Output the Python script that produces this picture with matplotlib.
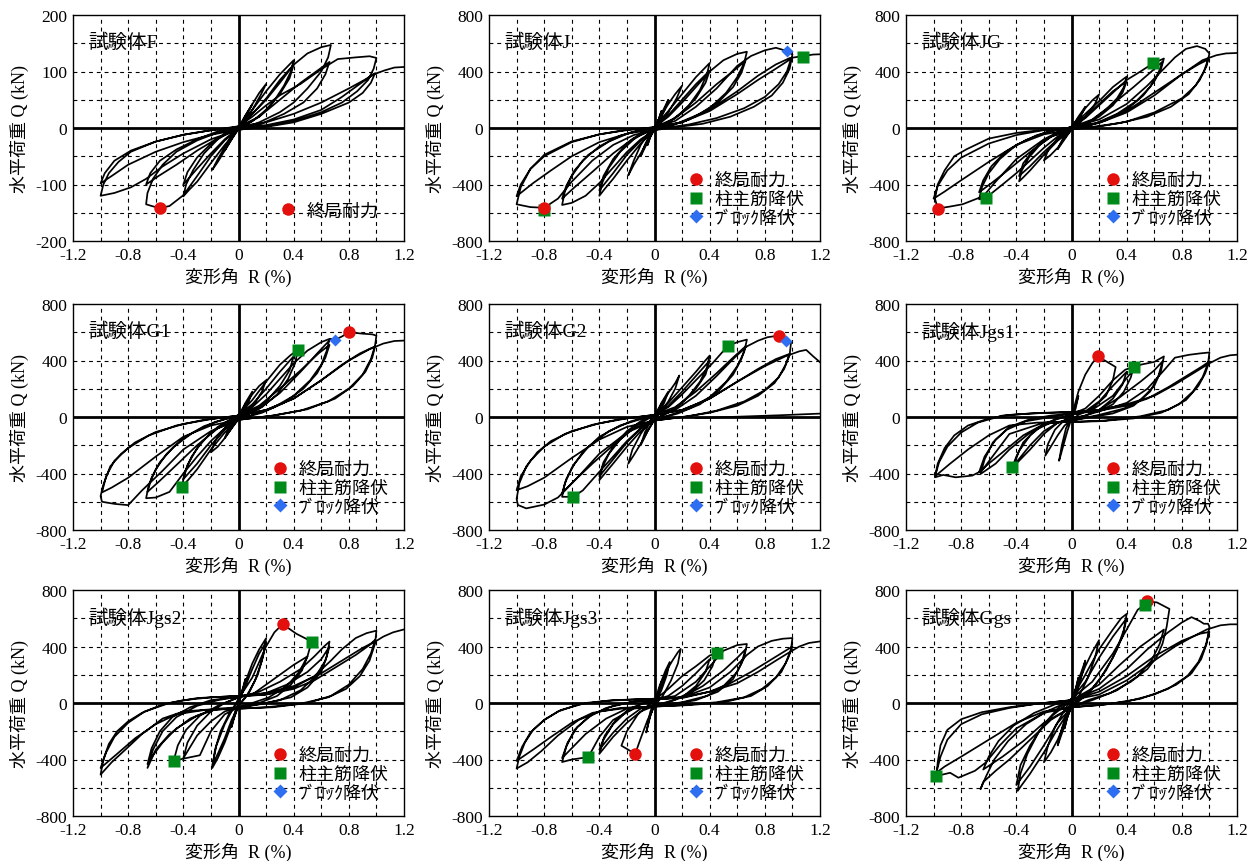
import matplotlib
matplotlib.use("Agg")
import matplotlib.pyplot as plt
from matplotlib.lines import Line2D

plt.rcParams['font.family'] = ['Liberation Serif', 'Noto Sans CJK JP']
plt.rcParams['axes.unicode_minus'] = False

# ---------------------------------------------
# Data: (R %, Q kN) load paths
# ---------------------------------------------
F_PATH = [
    (0, 0), (0.05, 22), (0.1, 42), (0.07, 28), (0.03, 8), (0, 0), (-0.05, -20), (-0.1, -40), (-0.07, -26), (-0.03, -8), (0, 0),
    (0.05, 22), (0.1, 42), (0.15, 62), (0.2, 78), (0.16, 58), (0.1, 32), (0.04, 8), (0, -2), (-0.05, -20), (-0.1, -40),
    (-0.15, -60), (-0.19, -74), (-0.15, -55), (-0.09, -30), (-0.03, -6), (0, 2),
    (0.1, 32), (0.2, 65), (0.3, 95), (0.36, 110), (0.4, 120), (0.38, 100), (0.33, 75), (0.25, 45), (0.15, 20), (0.05, 5), (0, -2),
    (-0.1, -30), (-0.2, -62), (-0.3, -95), (-0.36, -110), (-0.4, -121), (-0.38, -100), (-0.33, -75), (-0.25, -45), (-0.15, -20),
    (-0.05, -5), (0, 2),
    (0.1, 25), (0.2, 52), (0.3, 85), (0.4, 112), (0.37, 88), (0.3, 60), (0.2, 32), (0.1, 12), (0, 0), (-0.1, -20), (-0.2, -45),
    (-0.3, -72), (-0.4, -100), (-0.37, -78), (-0.3, -52), (-0.2, -28), (-0.1, -10), (0, 2),
    (0.1, 25), (0.2, 50), (0.3, 80), (0.4, 112), (0.5, 132), (0.6, 143), (0.67, 147), (0.65, 125), (0.6, 100), (0.5, 70),
    (0.4, 45), (0.3, 28), (0.15, 10), (0, -3), (-0.1, -22), (-0.2, -50), (-0.3, -85), (-0.4, -119), (-0.5, -138), (-0.57, -142),
    (-0.63, -138), (-0.67, -135), (-0.66, -115), (-0.62, -90), (-0.55, -65), (-0.45, -42), (-0.3, -22), (-0.15, -8), (0, 2),
    (0.15, 20), (0.3, 50), (0.45, 80), (0.58, 103), (0.66, 117), (0.63, 95), (0.57, 70), (0.47, 45), (0.33, 25), (0.17, 8),
    (0, -2), (-0.15, -18), (-0.3, -40), (-0.45, -65), (-0.58, -85), (-0.67, -100), (-0.64, -80), (-0.57, -58), (-0.45, -38),
    (-0.3, -20), (-0.15, -6), (0, 3),
    (0.1, 20), (0.2, 40), (0.3, 58), (0.45, 78), (0.6, 104), (0.72, 122), (0.85, 125), (0.95, 127), (1.0, 124), (0.98, 105),
    (0.94, 85), (0.86, 65), (0.75, 45), (0.6, 28), (0.4, 12), (0.2, 3), (0, -3), (-0.2, -20), (-0.4, -45), (-0.55, -68),
    (-0.67, -90), (-0.78, -105), (-0.9, -115), (-1.0, -120), (-0.98, -100), (-0.94, -80), (-0.87, -60), (-0.78, -42),
    (-0.6, -24), (-0.4, -12), (-0.2, -4), (0, 3),
    (0.2, 10), (0.4, 25), (0.6, 45), (0.8, 70), (0.92, 86), (0.99, 97), (0.96, 80), (0.9, 62), (0.8, 45), (0.6, 25), (0.4, 10),
    (0.2, 2), (0, -3), (-0.2, -12), (-0.4, -25), (-0.6, -42), (-0.8, -65), (-0.92, -85), (-1.0, -98), (-0.97, -80), (-0.9, -58),
    (-0.78, -40), (-0.6, -24), (-0.4, -12), (-0.2, -4), (0, 2),
    (0.2, 5), (0.4, 15), (0.6, 32), (0.75, 55), (0.88, 78), (0.98, 95), (1.06, 102), (1.13, 107), (1.2, 108),
]

J_PATH = [
    (0, 0), (0.03, 60), (0.05, 120), (0.03, 60), (0, 0), (-0.03, -60), (-0.05, -120), (-0.03, -60), (0, 0),
    (0.05, 100), (0.1, 200), (0.07, 120), (0.03, 40), (0, -10), (-0.05, -100), (-0.1, -200), (-0.07, -120), (-0.03, -40), (0, 10),
    (0.05, 90), (0.1, 170), (0.15, 240), (0.2, 300), (0.16, 210), (0.1, 110), (0.04, 30), (0, -10), (-0.05, -90), (-0.1, -180),
    (-0.15, -260), (-0.19, -335), (-0.15, -230), (-0.1, -120), (-0.04, -30), (0, 10),
    (0.1, 120), (0.2, 240), (0.3, 360), (0.36, 420), (0.4, 460), (0.38, 380), (0.33, 270), (0.25, 160), (0.15, 70), (0.05, 15),
    (0, -15), (-0.1, -110), (-0.2, -230), (-0.3, -360), (-0.36, -430), (-0.4, -480), (-0.38, -390), (-0.33, -280), (-0.25, -170),
    (-0.15, -80), (-0.05, -20), (0, 10),
    (0.1, 90), (0.2, 200), (0.3, 310), (0.4, 406), (0.37, 320), (0.3, 210), (0.2, 110), (0.1, 40), (0, -10), (-0.1, -90),
    (-0.2, -190), (-0.3, -320), (-0.4, -441), (-0.37, -340), (-0.3, -220), (-0.2, -110), (-0.1, -40), (0, 5),
    (0.1, 80), (0.2, 180), (0.3, 290), (0.4, 400), (0.5, 480), (0.6, 525), (0.67, 540), (0.65, 460), (0.6, 360), (0.52, 250),
    (0.4, 140), (0.25, 60), (0.1, 10), (0, -15), (-0.1, -80), (-0.2, -170), (-0.3, -280), (-0.4, -390), (-0.5, -480),
    (-0.6, -530), (-0.67, -545), (-0.65, -450), (-0.6, -340), (-0.52, -230), (-0.4, -130), (-0.25, -55), (-0.1, -15), (0, 5),
    (0.15, 70), (0.3, 180), (0.45, 310), (0.58, 410), (0.66, 476), (0.63, 390), (0.57, 290), (0.47, 190), (0.33, 100),
    (0.17, 35), (0, -10), (-0.15, -70), (-0.3, -180), (-0.45, -310), (-0.58, -420), (-0.67, -500), (-0.64, -410), (-0.58, -300),
    (-0.48, -190), (-0.33, -95), (-0.17, -30), (0, 5),
    (0.15, 50), (0.3, 150), (0.45, 280), (0.6, 440), (0.7, 510), (0.8, 550), (0.88, 568), (0.96, 545), (1.0, 520), (0.98, 420),
    (0.93, 320), (0.85, 230), (0.72, 150), (0.55, 80), (0.35, 30), (0.15, 5), (0, -15), (-0.15, -50), (-0.3, -120),
    (-0.45, -230), (-0.6, -380), (-0.7, -500), (-0.8, -565), (-0.9, -560), (-1.0, -540), (-0.97, -420), (-0.9, -290),
    (-0.8, -190), (-0.6, -95), (-0.4, -45), (-0.2, -15), (0, 5),
    (0.2, 40), (0.4, 120), (0.6, 240), (0.75, 340), (0.88, 420), (0.99, 490), (0.96, 400), (0.9, 310), (0.8, 220), (0.65, 140),
    (0.45, 70), (0.25, 25), (0, -10), (-0.2, -40), (-0.4, -100), (-0.6, -200), (-0.75, -300), (-0.88, -390), (-1.0, -483),
    (-0.97, -400), (-0.9, -290), (-0.8, -200), (-0.6, -100), (-0.4, -45), (-0.2, -12), (0, 5),
    (0.2, 40), (0.4, 130), (0.6, 260), (0.75, 370), (0.88, 450), (0.98, 495), (1.08, 510), (1.15, 520), (1.2, 522),
]

JG_PATH = [
    (0, 0), (0.05, 80), (0.1, 150), (0.07, 90), (0.03, 25), (0, -10), (-0.05, -80), (-0.1, -150), (-0.07, -90), (-0.03, -25), (0, 10),
    (0.05, 70), (0.1, 140), (0.15, 195), (0.2, 237), (0.17, 170), (0.11, 90), (0.05, 25), (0, -10), (-0.05, -70), (-0.1, -140),
    (-0.15, -190), (-0.2, -230), (-0.17, -160), (-0.11, -85), (-0.05, -25), (0, 10),
    (0.1, 100), (0.2, 190), (0.3, 290), (0.36, 335), (0.4, 364), (0.38, 290), (0.33, 210), (0.25, 130), (0.15, 55), (0.05, 10),
    (0, -15), (-0.1, -90), (-0.2, -190), (-0.3, -300), (-0.35, -350), (-0.38, -378), (-0.36, -300), (-0.31, -210),
    (-0.23, -120), (-0.13, -50), (-0.04, -10), (0, 10),
    (0.1, 80), (0.2, 170), (0.3, 260), (0.4, 330), (0.37, 250), (0.3, 160), (0.2, 80), (0.1, 25), (0, -10), (-0.1, -80),
    (-0.2, -170), (-0.3, -270), (-0.38, -340), (-0.35, -250), (-0.28, -160), (-0.18, -70), (-0.08, -20), (0, 10),
    (0.1, 70), (0.2, 160), (0.3, 250), (0.4, 340), (0.5, 400), (0.59, 457), (0.67, 492), (0.65, 420), (0.6, 330), (0.52, 230),
    (0.4, 130), (0.25, 55), (0.1, 10), (0, -10), (-0.1, -60), (-0.2, -140), (-0.3, -230), (-0.4, -320), (-0.5, -400),
    (-0.62, -494), (-0.67, -505), (-0.65, -420), (-0.6, -320), (-0.52, -220), (-0.4, -120), (-0.25, -50), (-0.1, -10), (0, 5),
    (0.15, 60), (0.3, 170), (0.45, 290), (0.58, 400), (0.66, 470), (0.63, 390), (0.57, 290), (0.47, 190), (0.33, 100),
    (0.17, 30), (0, -10), (-0.15, -60), (-0.3, -170), (-0.45, -290), (-0.58, -390), (-0.67, -455), (-0.64, -370),
    (-0.58, -270), (-0.48, -170), (-0.33, -85), (-0.17, -25), (0, 5),
    (0.2, 60), (0.4, 170), (0.55, 300), (0.67, 420), (0.75, 500), (0.83, 560), (0.91, 580), (0.97, 560), (1.0, 527),
    (0.98, 440), (0.93, 340), (0.85, 240), (0.72, 150), (0.55, 80), (0.35, 35), (0.15, 8), (0, -10), (-0.2, -80),
    (-0.4, -220), (-0.55, -380), (-0.64, -483), (-0.79, -540), (-0.88, -556), (-0.97, -570), (-0.99, -500), (-0.97, -400),
    (-0.92, -300), (-0.85, -200), (-0.76, -150), (-0.6, -75), (-0.4, -35), (-0.2, -12), (0, 0),
    (0.2, 40), (0.4, 120), (0.6, 250), (0.8, 380), (0.92, 450), (0.99, 485), (0.96, 400), (0.9, 300), (0.8, 210), (0.6, 110),
    (0.4, 45), (0.2, 10), (0, -10), (-0.2, -45), (-0.4, -120), (-0.6, -240), (-0.8, -370), (-0.92, -450), (-1.0, -500),
    (-0.97, -410), (-0.9, -300), (-0.8, -210), (-0.6, -110), (-0.4, -50), (-0.2, -15), (0, 0),
    (0.2, 35), (0.4, 110), (0.6, 230), (0.8, 380), (0.95, 480), (1.05, 515), (1.12, 528), (1.2, 531),
]

G1_PATH = [
    (0, 0), (0.05, 100), (0.1, 180), (0.07, 100), (0.03, 30), (0, -10), (-0.05, -80), (-0.1, -150), (-0.07, -80), (-0.03, -20), (0, 10),
    (0.05, 90), (0.1, 160), (0.15, 220), (0.2, 260), (0.17, 180), (0.12, 100), (0.05, 25), (0, -15), (-0.05, -80), (-0.1, -150),
    (-0.15, -210), (-0.2, -250), (-0.17, -170), (-0.11, -90), (-0.04, -20), (0, 15),
    (0.1, 120), (0.2, 250), (0.3, 370), (0.38, 440), (0.43, 471), (0.41, 380), (0.36, 270), (0.28, 160), (0.17, 70), (0.06, 15),
    (0, -20), (-0.1, -110), (-0.2, -230), (-0.3, -370), (-0.36, -440), (-0.41, -494), (-0.39, -390), (-0.34, -280),
    (-0.26, -170), (-0.15, -70), (-0.05, -15), (0, 15),
    (0.1, 90), (0.2, 200), (0.3, 320), (0.4, 430), (0.37, 330), (0.3, 220), (0.2, 110), (0.1, 40), (0, -15), (-0.1, -90),
    (-0.2, -200), (-0.3, -330), (-0.4, -440), (-0.37, -340), (-0.3, -220), (-0.2, -110), (-0.1, -40), (0, 10),
    (0.1, 70), (0.2, 160), (0.3, 270), (0.4, 380), (0.5, 470), (0.6, 530), (0.66, 553), (0.64, 470), (0.6, 370), (0.52, 260),
    (0.4, 150), (0.25, 65), (0.1, 15), (0, -20), (-0.1, -80), (-0.2, -170), (-0.3, -280), (-0.4, -400), (-0.5, -530),
    (-0.6, -570), (-0.67, -575), (-0.65, -480), (-0.6, -370), (-0.52, -260), (-0.4, -150), (-0.25, -65), (-0.1, -15), (0, 10),
    (0.15, 80), (0.3, 200), (0.45, 330), (0.58, 450), (0.66, 510), (0.63, 420), (0.57, 310), (0.47, 200), (0.33, 100),
    (0.17, 30), (0, -15), (-0.15, -80), (-0.3, -200), (-0.45, -340), (-0.58, -460), (-0.66, -530), (-0.63, -430),
    (-0.57, -320), (-0.47, -210), (-0.33, -110), (-0.17, -35), (0, 10),
    (0.15, 60), (0.3, 170), (0.45, 320), (0.58, 460), (0.67, 553), (0.7, 546), (0.75, 570), (0.8, 600), (0.9, 590),
    (0.97, 585), (1.0, 576), (0.99, 506), (0.96, 410), (0.9, 300), (0.8, 200), (0.65, 110), (0.45, 45), (0.25, 10), (0, -20),
    (-0.2, -100), (-0.4, -230), (-0.55, -380), (-0.7, -520), (-0.8, -624), (-0.9, -615), (-0.99, -600), (-1.0, -560),
    (-0.98, -480), (-0.93, -350), (-0.85, -260), (-0.75, -180), (-0.6, -106), (-0.4, -50), (-0.2, -15), (0, 10),
    (0.2, 50), (0.4, 130), (0.6, 260), (0.75, 370), (0.88, 450), (0.99, 500), (0.97, 420), (0.92, 320), (0.83, 220),
    (0.7, 130), (0.5, 55), (0.25, 10), (0, -20), (-0.2, -60), (-0.4, -140), (-0.6, -280), (-0.8, -430), (-0.92, -500),
    (-0.99, -534), (-0.96, -420), (-0.9, -310), (-0.8, -220), (-0.65, -130), (-0.45, -60), (-0.25, -20), (0, 10),
    (0.2, 50), (0.4, 130), (0.6, 260), (0.8, 400), (0.95, 480), (1.05, 520), (1.13, 538), (1.2, 541),
]

G2_PATH = [
    (0, 0), (0.05, 100), (0.1, 180), (0.07, 100), (0.03, 30), (0, -15), (-0.05, -100), (-0.1, -200), (-0.07, -110), (-0.03, -30), (0, 10),
    (0.05, 90), (0.1, 170), (0.15, 240), (0.18, 294), (0.15, 200), (0.1, 110), (0.04, 30), (0, -20), (-0.05, -100), (-0.1, -190),
    (-0.15, -270), (-0.19, -330), (-0.16, -230), (-0.1, -120), (-0.04, -35), (0, 15),
    (0.1, 100), (0.2, 210), (0.3, 320), (0.36, 390), (0.4, 435), (0.38, 350), (0.33, 250), (0.25, 150), (0.15, 60), (0.05, 10),
    (0, -20), (-0.1, -100), (-0.2, -210), (-0.3, -330), (-0.36, -400), (-0.4, -447), (-0.38, -360), (-0.33, -260),
    (-0.25, -160), (-0.15, -70), (-0.05, -15), (0, 15),
    (0.1, 80), (0.2, 180), (0.3, 290), (0.4, 400), (0.37, 300), (0.3, 200), (0.2, 100), (0.1, 30), (0, -20), (-0.1, -80),
    (-0.2, -180), (-0.3, -300), (-0.4, -420), (-0.37, -320), (-0.3, -210), (-0.2, -100), (-0.1, -30), (0, 15),
    (0.1, 70), (0.2, 160), (0.3, 260), (0.42, 380), (0.53, 501), (0.6, 530), (0.67, 548), (0.65, 460), (0.6, 360), (0.52, 250),
    (0.4, 140), (0.25, 60), (0.1, 10), (0, -20), (-0.1, -80), (-0.2, -170), (-0.3, -280), (-0.42, -410), (-0.52, -520),
    (-0.59, -565), (-0.67, -565), (-0.65, -470), (-0.6, -360), (-0.52, -250), (-0.4, -140), (-0.25, -60), (-0.1, -15), (0, 15),
    (0.15, 70), (0.3, 180), (0.45, 310), (0.58, 430), (0.66, 500), (0.63, 410), (0.57, 300), (0.47, 190), (0.33, 90),
    (0.17, 25), (0, -20), (-0.15, -80), (-0.3, -200), (-0.45, -330), (-0.58, -450), (-0.67, -540), (-0.64, -440),
    (-0.58, -330), (-0.48, -210), (-0.33, -100), (-0.17, -30), (0, 15),
    (0.15, 50), (0.3, 150), (0.45, 290), (0.58, 420), (0.67, 500), (0.75, 540), (0.82, 565), (0.9, 576), (0.95, 537),
    (0.99, 529), (0.98, 440), (0.94, 340), (0.87, 240), (0.75, 150), (0.6, 80), (0.4, 30), (0.2, 0), (0, -25), (-0.2, -110),
    (-0.4, -260), (-0.55, -420), (-0.7, -570), (-0.8, -620), (-0.93, -647), (-0.99, -623), (-1.0, -580), (-0.98, -470),
    (-0.93, -350), (-0.85, -250), (-0.75, -170), (-0.6, -100), (-0.4, -45), (-0.2, -10), (0, 15),
    (0.2, 50), (0.4, 130), (0.6, 250), (0.75, 340), (0.88, 410), (0.98, 447), (0.95, 370), (0.9, 280), (0.8, 190),
    (0.65, 110), (0.45, 45), (0.25, 5), (0, -25), (-0.2, -70), (-0.4, -160), (-0.6, -290), (-0.8, -430), (-0.92, -490),
    (-1.0, -518), (-0.97, -420), (-0.9, -310), (-0.8, -210), (-0.65, -120), (-0.45, -55), (-0.25, -15), (0, 15),
    (0.2, 50), (0.4, 130), (0.6, 250), (0.8, 360), (0.95, 430), (1.05, 465), (1.1, 475), (1.15, 430), (1.2, 388),
]
G2_TAIL = [(0.3, -8), (0.6, 2), (0.9, 12), (1.2, 24)]

JGS1_PATH = [
    (0, 0), (0.03, 80), (0.05, 150), (0.03, 60), (0, -10), (-0.03, -100), (-0.05, -170), (-0.09, -310), (-0.07, -200),
    (-0.04, -80), (0, 0),
    (0.05, 180), (0.1, 300), (0.15, 380), (0.19, 429), (0.25, 395), (0.32, 354), (0.3, 260), (0.25, 150), (0.15, 60),
    (0.05, 15), (0, -20), (-0.05, -60), (-0.1, -130), (-0.15, -210), (-0.19, -274), (-0.17, -190), (-0.12, -90), (-0.05, -20), (0, 20),
    (0.1, 60), (0.2, 150), (0.3, 260), (0.39, 335), (0.45, 354), (0.43, 280), (0.38, 180), (0.3, 90), (0.2, 40), (0.1, 10),
    (0, -10), (-0.1, -40), (-0.2, -120), (-0.3, -230), (-0.4, -330), (-0.43, -357), (-0.4, -280), (-0.35, -180), (-0.25, -80),
    (-0.12, -20), (0, 15),
    (0.1, 40), (0.2, 110), (0.3, 220), (0.4, 320), (0.37, 230), (0.3, 130), (0.2, 50), (0.1, 10), (0, -15), (-0.1, -40),
    (-0.2, -100), (-0.3, -200), (-0.42, -345), (-0.38, -240), (-0.3, -130), (-0.2, -50), (-0.1, -10), (0, 15),
    (0.15, 50), (0.3, 150), (0.42, 300), (0.5, 370), (0.6, 390), (0.67, 429), (0.65, 330), (0.6, 220), (0.5, 120), (0.38, 60),
    (0.2, 15), (0, -25), (-0.15, -40), (-0.3, -110), (-0.45, -230), (-0.55, -330), (-0.66, -404), (-0.63, -300), (-0.57, -180),
    (-0.47, -90), (-0.33, -30), (-0.15, 0), (0, 25),
    (0.2, 50), (0.35, 140), (0.5, 250), (0.6, 330), (0.66, 394), (0.63, 290), (0.57, 180), (0.45, 80), (0.3, 25), (0.15, 0),
    (0, -25), (-0.2, -50), (-0.35, -130), (-0.5, -250), (-0.6, -330), (-0.67, -390), (-0.63, -280), (-0.55, -160),
    (-0.45, -70), (-0.3, -15), (-0.15, 10), (0, 25),
    (0.2, 40), (0.4, 100), (0.55, 200), (0.67, 330), (0.75, 420), (0.85, 440), (0.93, 450), (1.0, 457), (0.99, 380),
    (0.95, 280), (0.88, 180), (0.78, 90), (0.65, 30), (0.45, -10), (0.2, -30), (0, -35), (-0.2, -40), (-0.45, -120),
    (-0.55, -250), (-0.65, -380), (-0.72, -415), (-0.84, -427), (-0.93, -410), (-0.99, -427), (-0.97, -330), (-0.92, -220),
    (-0.85, -130), (-0.75, -60), (-0.6, -10), (-0.45, 15), (-0.2, 30), (0, 35),
    (0.2, 45), (0.4, 80), (0.55, 130), (0.7, 210), (0.85, 300), (0.95, 360), (1.0, 394), (0.97, 310), (0.92, 220), (0.83, 120),
    (0.7, 50), (0.5, 5), (0.25, -25), (0, -35), (-0.25, -40), (-0.45, -60), (-0.6, -130), (-0.75, -230), (-0.88, -330),
    (-0.99, -420), (-0.96, -320), (-0.9, -210), (-0.8, -110), (-0.68, -40), (-0.5, 10), (-0.3, 25), (0, 35),
    (0.2, 50), (0.4, 90), (0.6, 150), (0.75, 230), (0.9, 320), (1.0, 380), (1.08, 420), (1.15, 437), (1.2, 441),
]

JGS2_PATH = [
    (0, 0), (0.03, 100), (0.05, 170), (0.03, 80), (0, -10), (-0.03, -100), (-0.05, -170), (-0.03, -80), (0, 10),
    (0.05, 150), (0.1, 280), (0.15, 380), (0.2, 458), (0.18, 340), (0.14, 200), (0.08, 80), (0, -20), (-0.05, -150),
    (-0.1, -280), (-0.15, -390), (-0.19, -460), (-0.17, -330), (-0.13, -200), (-0.07, -80), (0, 20),
    (0.05, 120), (0.1, 240), (0.15, 350), (0.2, 430), (0.17, 300), (0.12, 160), (0.06, 50), (0, -20), (-0.05, -120),
    (-0.1, -250), (-0.15, -360), (-0.19, -440), (-0.16, -300), (-0.1, -150), (-0.04, -40), (0, 30),
    (0.1, 180), (0.2, 400), (0.26, 500), (0.32, 558), (0.42, 490), (0.53, 435), (0.5, 330), (0.44, 220), (0.35, 120),
    (0.22, 40), (0.1, 0), (0, -30), (-0.1, -80), (-0.2, -200), (-0.28, -370), (-0.38, -390), (-0.47, -409), (-0.44, -300),
    (-0.38, -190), (-0.28, -90), (-0.15, -20), (0, 40),
    (0.1, 60), (0.2, 130), (0.3, 200), (0.4, 270), (0.5, 330), (0.46, 230), (0.38, 130), (0.28, 50), (0.15, 0), (0, -30),
    (-0.1, -60), (-0.2, -130), (-0.3, -230), (-0.4, -391), (-0.37, -280), (-0.3, -160), (-0.2, -60), (-0.1, 0), (0, 40),
    (0.15, 80), (0.3, 150), (0.45, 240), (0.55, 330), (0.62, 400), (0.66, 435), (0.64, 330), (0.6, 220), (0.5, 110),
    (0.38, 40), (0.2, 0), (0, -30), (-0.15, -40), (-0.3, -90), (-0.45, -180), (-0.55, -280), (-0.62, -370), (-0.66, -433),
    (-0.63, -320), (-0.57, -200), (-0.48, -100), (-0.35, -30), (-0.2, 20), (0, 45),
    (0.2, 70), (0.35, 130), (0.5, 220), (0.6, 310), (0.66, 400), (0.63, 300), (0.56, 190), (0.45, 90), (0.3, 20), (0.15, -10),
    (0, -35), (-0.2, -50), (-0.35, -110), (-0.5, -220), (-0.6, -330), (-0.66, -460), (-0.62, -330), (-0.55, -200),
    (-0.45, -100), (-0.3, -20), (-0.15, 20), (0, 45),
    (0.2, 60), (0.4, 110), (0.55, 190), (0.67, 300), (0.75, 380), (0.85, 460), (0.93, 495), (1.0, 512), (0.99, 420),
    (0.95, 300), (0.88, 190), (0.78, 100), (0.65, 40), (0.45, -5), (0.2, -30), (0, -40), (-0.2, -45), (-0.4, -60),
    (-0.55, -110), (-0.7, -220), (-0.82, -330), (-0.92, -420), (-1.0, -507), (-0.98, -400), (-0.94, -290), (-0.88, -200),
    (-0.8, -130), (-0.7, -70), (-0.55, -10), (-0.4, 20), (-0.2, 40), (0, 50),
    (0.2, 60), (0.4, 100), (0.55, 160), (0.7, 250), (0.85, 340), (0.95, 410), (0.99, 447), (0.96, 350), (0.9, 240),
    (0.8, 130), (0.67, 50), (0.5, 0), (0.25, -30), (0, -40), (-0.25, -50), (-0.45, -80), (-0.6, -150), (-0.75, -250),
    (-0.88, -360), (-1.0, -460), (-0.96, -350), (-0.9, -240), (-0.8, -140), (-0.68, -60), (-0.5, 0), (-0.3, 35), (0, 50),
    (0.2, 70), (0.4, 120), (0.6, 210), (0.75, 300), (0.9, 390), (1.0, 440), (1.05, 470), (1.12, 500), (1.2, 521),
]

JGS3_PATH = [
    (0, 0), (0.03, 80), (0.05, 150), (0.03, 60), (0, -10), (-0.03, -80), (-0.05, -150), (-0.03, -60), (0, 10),
    (0.04, 130), (0.08, 230), (0.11, 290), (0.09, 200), (0.05, 90), (0, -10), (-0.03, -90), (-0.06, -209), (-0.04, -120),
    (-0.01, -30), (0.02, 30),
    (0.06, 150), (0.1, 250), (0.13, 300), (0.17, 360), (0.19, 383), (0.17, 280), (0.12, 160), (0.06, 50), (0, -20),
    (-0.05, -120), (-0.1, -250), (-0.14, -360), (-0.24, -302), (-0.2, -200), (-0.12, -80), (-0.05, -20), (0, 20),
    (0.1, 100), (0.2, 190), (0.3, 260), (0.4, 336), (0.45, 353), (0.42, 260), (0.36, 160), (0.27, 80), (0.15, 25), (0, -20),
    (-0.1, -60), (-0.2, -140), (-0.3, -240), (-0.4, -360), (-0.37, -260), (-0.3, -150), (-0.2, -60), (-0.1, -10), (0, 20),
    (0.1, 50), (0.2, 120), (0.3, 210), (0.4, 310), (0.37, 220), (0.3, 120), (0.2, 40), (0.1, 5), (0, -20), (-0.1, -40),
    (-0.2, -110), (-0.3, -210), (-0.4, -330), (-0.36, -230), (-0.28, -120), (-0.18, -40), (-0.08, 0), (0, 20),
    (0.15, 50), (0.3, 150), (0.42, 280), (0.5, 370), (0.6, 410), (0.67, 418), (0.65, 320), (0.6, 220), (0.5, 120), (0.38, 50),
    (0.2, 5), (0, -20), (-0.15, -40), (-0.3, -120), (-0.4, -240), (-0.48, -383), (-0.6, -400), (-0.67, -418), (-0.64, -310),
    (-0.58, -190), (-0.48, -100), (-0.35, -35), (-0.18, 5), (0, 25),
    (0.2, 40), (0.35, 120), (0.5, 230), (0.6, 320), (0.66, 380), (0.63, 280), (0.57, 170), (0.46, 80), (0.3, 20), (0.15, -5),
    (0, -25), (-0.2, -40), (-0.35, -110), (-0.5, -220), (-0.6, -320), (-0.67, -390), (-0.63, -280), (-0.56, -170),
    (-0.45, -80), (-0.3, -20), (-0.15, 10), (0, 25),
    (0.2, 40), (0.4, 110), (0.55, 220), (0.67, 340), (0.75, 400), (0.85, 440), (0.93, 455), (1.0, 460), (0.99, 380),
    (0.95, 280), (0.88, 180), (0.78, 100), (0.65, 40), (0.45, 5), (0.2, -15), (0, -25), (-0.2, -35), (-0.4, -60),
    (-0.55, -120), (-0.7, -230), (-0.82, -340), (-0.92, -420), (-1.0, -464), (-0.98, -380), (-0.94, -280), (-0.88, -190),
    (-0.8, -120), (-0.7, -60), (-0.55, -10), (-0.35, 15), (-0.15, 25), (0, 30),
    (0.2, 35), (0.4, 80), (0.55, 140), (0.7, 220), (0.85, 310), (0.95, 370), (1.0, 400), (0.97, 320), (0.92, 220),
    (0.82, 120), (0.7, 50), (0.5, 5), (0.25, -15), (0, -25), (-0.25, -35), (-0.45, -70), (-0.6, -140), (-0.75, -240),
    (-0.88, -330), (-1.0, -410), (-0.96, -310), (-0.9, -210), (-0.8, -120), (-0.68, -50), (-0.5, 0), (-0.3, 20), (0, 30),
    (0.2, 40), (0.4, 80), (0.6, 140), (0.75, 220), (0.88, 300), (0.98, 360), (1.05, 400), (1.12, 425), (1.2, 436),
]

GGS_PATH = [
    (0, 0), (0.03, 100), (0.05, 180), (0.03, 80), (0, -10), (-0.03, -100), (-0.05, -180), (-0.03, -80), (0, 10),
    (0.05, 160), (0.1, 300), (0.07, 180), (0.03, 60), (0, -20), (-0.05, -160), (-0.1, -300), (-0.07, -180), (-0.03, -60), (0, 20),
    (0.05, 140), (0.1, 260), (0.15, 360), (0.2, 445), (0.17, 320), (0.12, 180), (0.06, 60), (0, -30), (-0.05, -140),
    (-0.1, -260), (-0.15, -350), (-0.2, -420), (-0.17, -300), (-0.12, -170), (-0.05, -50), (0, 30),
    (0.1, 200), (0.2, 380), (0.3, 520), (0.36, 600), (0.4, 631), (0.38, 520), (0.33, 380), (0.25, 230), (0.15, 100),
    (0.05, 20), (0, -30), (-0.1, -180), (-0.2, -350), (-0.3, -500), (-0.36, -580), (-0.39, -622), (-0.37, -500),
    (-0.32, -360), (-0.24, -210), (-0.14, -90), (-0.05, -20), (0, 30),
    (0.1, 150), (0.2, 320), (0.3, 470), (0.4, 600), (0.37, 470), (0.3, 320), (0.2, 160), (0.1, 50), (0, -30), (-0.1, -140),
    (-0.2, -300), (-0.3, -450), (-0.4, -580), (-0.37, -440), (-0.3, -300), (-0.2, -150), (-0.1, -40), (0, 30),
    (0.15, 150), (0.3, 350), (0.4, 520), (0.48, 660), (0.53, 696), (0.55, 719), (0.62, 712), (0.71, 666), (0.69, 540),
    (0.66, 420), (0.62, 330), (0.55, 240), (0.43, 150), (0.28, 70), (0.12, 20), (0, -30), (-0.15, -120), (-0.3, -260),
    (-0.45, -400), (-0.55, -480), (-0.64, -560), (-0.66, -610), (-0.62, -520), (-0.56, -400), (-0.46, -270), (-0.33, -150),
    (-0.18, -60), (0, 20),
    (0.2, 130), (0.35, 270), (0.5, 400), (0.6, 470), (0.67, 520), (0.64, 420), (0.58, 300), (0.48, 190), (0.33, 90),
    (0.15, 20), (0, -30), (-0.2, -140), (-0.35, -270), (-0.5, -380), (-0.64, -471), (-0.6, -380), (-0.53, -270),
    (-0.42, -160), (-0.27, -70), (-0.12, -10), (0, 20),
    (0.2, 100), (0.4, 240), (0.55, 380), (0.7, 500), (0.8, 570), (0.87, 608), (0.93, 580), (0.96, 561), (0.99, 561),
    (1.0, 540), (0.98, 420), (0.94, 310), (0.87, 210), (0.76, 130), (0.6, 60), (0.4, 10), (0.2, -15), (0, -30), (-0.2, -70),
    (-0.4, -180), (-0.52, -300), (-0.62, -420), (-0.7, -480), (-0.82, -529), (-0.88, -494), (-0.98, -517), (-0.97, -420),
    (-0.95, -300), (-0.9, -190), (-0.8, -115), (-0.65, -65), (-0.45, -30), (-0.25, -5), (0, 20),
    (0.2, 80), (0.4, 190), (0.6, 330), (0.8, 440), (0.93, 490), (1.0, 503), (0.97, 400), (0.92, 290), (0.84, 190), (0.7, 100),
    (0.5, 30), (0.25, -10), (0, -30), (-0.2, -60), (-0.4, -140), (-0.6, -260), (-0.8, -380), (-0.92, -450), (-0.98, -494),
    (-0.95, -380), (-0.9, -260), (-0.8, -150), (-0.65, -80), (-0.45, -35), (-0.25, -5), (0, 20),
    (0.2, 60), (0.4, 160), (0.6, 300), (0.75, 400), (0.88, 470), (0.98, 520), (1.08, 550), (1.15, 557), (1.2, 557),
]

# markers: ultimate strength / column rebar yield / block yield
F_ULT = [(-0.57, -142)]
J_ULT, J_REBAR, J_BLOCK = [(-0.8, -565)], [(-0.8, -578), (1.08, 506)], [(0.96, 545)]
JG_ULT, JG_REBAR, JG_BLOCK = [(-0.97, -575)], [(0.59, 457), (-0.62, -494)], []
G1_ULT, G1_REBAR, G1_BLOCK = [(0.80, 600)], [(0.43, 471), (-0.41, -494)], [(0.70, 546)]
G2_ULT, G2_REBAR, G2_BLOCK = [(0.90, 576)], [(0.53, 501), (-0.59, -565)], [(0.95, 537)]
JGS1_ULT, JGS1_REBAR, JGS1_BLOCK = [(0.19, 429)], [(0.45, 354), (-0.43, -357)], []
JGS2_ULT, JGS2_REBAR, JGS2_BLOCK = [(0.32, 558)], [(0.53, 435), (-0.47, -409)], []
JGS3_ULT, JGS3_REBAR, JGS3_BLOCK = [(-0.14, -360)], [(0.45, 353), (-0.48, -383)], []
GGS_ULT, GGS_REBAR, GGS_BLOCK = [(0.55, 719)], [(0.53, 696), (-0.98, -517)], []

X_TICKS = [-1.2, -0.8, -0.4, 0, 0.4, 0.8, 1.2]
X_TICK_LABELS = ["-1.2", "-0.8", "-0.4", "0", "0.4", "0.8", "1.2"]
X_GRID = [-1.0, -0.8, -0.6, -0.4, -0.2, 0.2, 0.4, 0.6, 0.8, 1.0]
Y_TICKS_200 = [-200, -100, 0, 100, 200]
Y_TICKS_800 = [-800, -400, 0, 400, 800]

LEGEND_LABELS = ["終局耐力", "柱主筋降伏", "ﾌﾞﾛｯｸ降伏"]
RED, GREEN, BLUE = "#e3100e", "#008a1a", "#2e6ff2"

PANELS = [
    ("試験体F", F_PATH, None, 200, F_ULT, [], [], "rub"),
    ("試験体J", J_PATH, None, 800, J_ULT, J_REBAR, J_BLOCK, "rub"),
    ("試験体JG", JG_PATH, None, 800, JG_ULT, JG_REBAR, JG_BLOCK, "rub"),
    ("試験体G1", G1_PATH, None, 800, G1_ULT, G1_REBAR, G1_BLOCK, "rub"),
    ("試験体G2", G2_PATH, G2_TAIL, 800, G2_ULT, G2_REBAR, G2_BLOCK, "rub"),
    ("試験体Jgs1", JGS1_PATH, None, 800, JGS1_ULT, JGS1_REBAR, JGS1_BLOCK, "rub"),
    ("試験体Jgs2", JGS2_PATH, None, 800, JGS2_ULT, JGS2_REBAR, JGS2_BLOCK, "rub"),
    ("試験体Jgs3", JGS3_PATH, None, 800, JGS3_ULT, JGS3_REBAR, JGS3_BLOCK, "rub"),
    ("試験体Ggs", GGS_PATH, None, 800, GGS_ULT, GGS_REBAR, GGS_BLOCK, "urb"),
]

# ---------------------------------------------
# Figure layout (pixel boxes of the axes)
# ---------------------------------------------
W, H = 1257, 862
COL_LEFT = [73, 489, 906]
ROW_TOP = [16, 305, 591]
AX_W, AX_H = 331, 226

fig = plt.figure(figsize=(W / 100, H / 100), dpi=100)

marker_style = {
    "u": dict(marker="o", ms=9, color=RED),
    "r": dict(marker="s", ms=8.5, color=GREEN),
    "b": dict(marker="D", ms=6.5, color=BLUE),
}
legend_style = {
    "u": dict(marker="o", ms=9, color=RED),
    "r": dict(marker="s", ms=8.2, color=GREEN),
    "b": dict(marker="D", ms=7.5, color=BLUE),
}

for i, (name, path, tail, ymax, ult, rebar, block, order) in enumerate(PANELS):
    r, c = divmod(i, 3)
    ax = fig.add_axes([COL_LEFT[c] / W, (H - ROW_TOP[r] - AX_H) / H, AX_W / W, AX_H / H])

    ax.set_xlim(-1.2, 1.2)
    ax.set_ylim(-ymax, ymax)
    yt = Y_TICKS_200 if ymax == 200 else Y_TICKS_800
    ax.set_xticks(X_TICKS)
    ax.set_xticklabels(X_TICK_LABELS)
    ax.set_yticks(yt)
    ax.set_yticklabels([str(v) for v in yt])
    ax.tick_params(length=0, labelsize=12.5, pad=4)

    # dashed grid every 0.2 % and every quarter of the y range
    for x in X_GRID:
        ax.axvline(x, color="black", lw=0.8, ls=(0, (3.5, 3.5)), zorder=1)
    for k in (-3, -2, -1, 1, 2, 3):
        ax.axhline(k * ymax / 4, color="black", lw=0.8, ls=(0, (3.5, 3.5)), zorder=1)
    ax.axhline(0, color="black", lw=2, zorder=2)
    ax.axvline(0, color="black", lw=2, zorder=2)

    xs, ys = zip(*path)
    ax.plot(xs, ys, color="black", lw=1.25, zorder=3)
    if tail:
        tx, ty = zip(*tail)
        ax.plot(tx, ty, color="black", lw=1.25, zorder=3)

    pts = {"u": ult, "r": rebar, "b": block}
    for z, key in enumerate(order):
        if pts[key]:
            px, py = zip(*pts[key])
            ax.plot(px, py, ls="none", mec="none", zorder=5 + z, **marker_style[key])

    for s in ax.spines.values():
        s.set_linewidth(1.0)

    ax.text(0.045, 0.88, name, transform=ax.transAxes, fontsize=14, va="center", ha="left")
    ax.set_xlabel("変形角  R (%)", fontsize=13, labelpad=3)
    ax.set_ylabel("水平荷重 Q (kN)", fontsize=13, labelpad=5)

    # legend
    if ymax == 200:
        handles = [Line2D([], [], ls="none", mec="none", **legend_style["u"])]
        labels = LEGEND_LABELS[:1]
        anchor = (0.622, 0.17)
    else:
        handles = [Line2D([], [], ls="none", mec="none", **legend_style[k]) for k in "urb"]
        labels = LEGEND_LABELS
        anchor = (0.598, 0.305)
    ax.legend(handles, labels, loc="upper left", bbox_to_anchor=anchor, frameon=False,
              fontsize=13, handlelength=1.0, handletextpad=0.55, labelspacing=0.1,
              borderpad=0, borderaxespad=0)

fig.savefig("out.png", dpi=100)
